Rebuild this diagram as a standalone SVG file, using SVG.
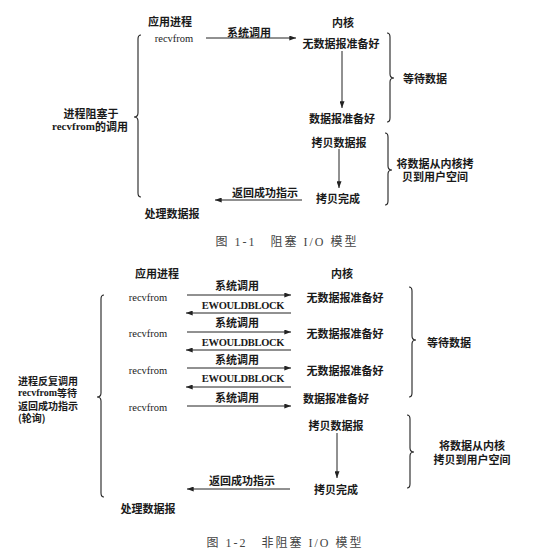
<svg xmlns="http://www.w3.org/2000/svg" width="544" height="556" viewBox="0 0 544 556">
<style>
.t{font-family:"Noto Sans CJK SC","Liberation Sans",sans-serif;font-size:11px;font-weight:bold;fill:#1a1a1a;dominant-baseline:central}
.s{font-size:10px}
.rs{font-family:"Liberation Serif",serif;font-weight:bold}
.r{font-family:"Liberation Serif","Noto Sans CJK SC",serif;font-size:10.5px;fill:#1a1a1a;dominant-baseline:central}
.e{font-family:"Liberation Serif",serif;font-size:10.5px;font-weight:bold;fill:#1a1a1a;dominant-baseline:central;letter-spacing:-0.3px}
.c{font-family:"Liberation Serif","Noto Sans CJK SC",serif;font-size:12px;fill:#444;dominant-baseline:central;letter-spacing:2px}
.m{text-anchor:middle}
.ln{stroke:#222;stroke-width:1;fill:none}
.br{stroke:#222;stroke-width:1.1;fill:none}
</style>
<defs>
<marker id="ah" viewBox="0 0 8 6" refX="8" refY="3" markerWidth="7" markerHeight="5" orient="auto" markerUnits="userSpaceOnUse">
<path d="M0,0 L8,3 L0,6 Z" fill="#222"/>
</marker>
</defs>
<rect width="544" height="556" fill="#fff"/>

<!-- Figure 1-1 -->
<g id="fig1-app"><text class="t m" x="170" y="21">应用进程</text></g>
<g id="fig1-kernel"><text class="t m" x="343" y="22">内核</text></g>
<g id="fig1-recvfrom"><text class="r m" x="174" y="38">recvfrom</text></g>
<g id="fig1-nodata"><text class="t m" x="341" y="43">无数据报准备好</text></g>
<g id="fig1-ready"><text class="t m" x="342" y="118">数据报准备好</text></g>
<g id="fig1-copy"><text class="t m" x="339" y="142">拷贝数据报</text></g>
<g id="fig1-done"><text class="t m" x="338" y="198">拷贝完成</text></g>
<g id="fig1-process"><text class="t m" x="172" y="213">处理数据报</text></g>
<g id="fig1-blocked"><text class="t m" x="91" y="113"><tspan x="91" y="113">进程阻塞于</tspan><tspan x="90" y="126"><tspan class="rs">recvfrom</tspan>的调用</tspan></text></g>
<g id="fig1-wait"><text class="t" x="403" y="78">等待数据</text></g>
<g id="fig1-copylabel"><text class="t m" x="435" y="163"><tspan x="435" y="163">将数据从内核拷</tspan><tspan x="435" y="176">贝到用户空间</tspan></text></g>
<g id="fig1-caption"><text class="c m" x="287" y="242">图 1-1　阻塞 I/O 模型</text></g>

<g id="fig1-connectors">
<line class="ln" x1="206" y1="38" x2="296" y2="38" marker-end="url(#ah)"/>
<text class="t m" x="249" y="32">系统调用</text>
<line class="ln" x1="342" y1="51" x2="342" y2="108" marker-end="url(#ah)"/>
<line class="ln" x1="339" y1="149" x2="339" y2="188" marker-end="url(#ah)"/>
<line class="ln" x1="302" y1="200" x2="215" y2="200" marker-end="url(#ah)"/>
<text class="t m" x="265" y="192">返回成功指示</text>
<path class="br" d="M141,35 Q138,35 138,39 L138,113 Q138,117 134,117 Q138,117 138,121 L138,193 Q138,197 141,197"/>
<path class="br" d="M387,33 Q390,33 390,37 L390,74 Q390,78 394,78 Q390,78 390,82 L390,118 Q390,122 387,122"/>
<path class="br" d="M385,133 Q388,133 388,137 L388,166 Q388,170 392,170 Q388,170 388,174 L388,201 Q388,205 385,205"/>
</g>

<!-- Figure 1-2 -->
<g id="fig2-app"><text class="t m" x="157" y="273">应用进程</text></g>
<g id="fig2-kernel"><text class="t m" x="342" y="273">内核</text></g>
<g id="fig2-recv1"><text class="r m" x="148" y="297">recvfrom</text></g>
<g id="fig2-recv2"><text class="r m" x="148" y="333">recvfrom</text></g>
<g id="fig2-recv3"><text class="r m" x="148" y="370">recvfrom</text></g>
<g id="fig2-recv4"><text class="r m" x="148" y="407">recvfrom</text></g>
<g id="fig2-nodata1"><text class="t m" x="345" y="297">无数据报准备好</text></g>
<g id="fig2-nodata2"><text class="t m" x="345" y="333">无数据报准备好</text></g>
<g id="fig2-nodata3"><text class="t m" x="345" y="370">无数据报准备好</text></g>
<g id="fig2-ready"><text class="t m" x="336" y="398">数据报准备好</text></g>
<g id="fig2-copy"><text class="t m" x="336" y="425">拷贝数据报</text></g>
<g id="fig2-done"><text class="t m" x="336" y="489">拷贝完成</text></g>
<g id="fig2-process"><text class="t m" x="148" y="508">处理数据报</text></g>
<g id="fig2-poll"><text class="t s" x="18" y="379.5"><tspan x="18" y="379.5">进程反复调用</tspan><tspan x="18" y="392"><tspan class="rs">recvfrom</tspan>等待</tspan><tspan x="18" y="404.5">返回成功指示</tspan><tspan x="18" y="417">(轮询)</tspan></text></g>
<g id="fig2-wait"><text class="t" x="427" y="342">等待数据</text></g>
<g id="fig2-copylabel"><text class="t m" x="472" y="445"><tspan x="472" y="445">将数据从内核</tspan><tspan x="472" y="459">拷贝到用户空间</tspan></text></g>
<g id="fig2-caption"><text class="c m" x="285" y="543">图 1-2　非阻塞 I/O 模型</text></g>

<g id="fig2-connectors">
<line class="ln" x1="187" y1="295" x2="291" y2="295" marker-end="url(#ah)"/>
<text class="t m" x="237" y="285">系统调用</text>
<line class="ln" x1="291" y1="313" x2="186" y2="313" marker-end="url(#ah)"/>
<text class="e m" x="243" y="305">EWOULDBLOCK</text>
<line class="ln" x1="187" y1="332" x2="291" y2="332" marker-end="url(#ah)"/>
<text class="t m" x="237" y="322">系统调用</text>
<line class="ln" x1="291" y1="350" x2="186" y2="350" marker-end="url(#ah)"/>
<text class="e m" x="243" y="342">EWOULDBLOCK</text>
<line class="ln" x1="187" y1="368" x2="291" y2="368" marker-end="url(#ah)"/>
<text class="t m" x="237" y="359">系统调用</text>
<line class="ln" x1="291" y1="387" x2="186" y2="387" marker-end="url(#ah)"/>
<text class="e m" x="243" y="378">EWOULDBLOCK</text>
<line class="ln" x1="187" y1="406" x2="291" y2="406" marker-end="url(#ah)"/>
<text class="t m" x="237" y="397">系统调用</text>
<line class="ln" x1="337" y1="433" x2="337" y2="478" marker-end="url(#ah)"/>
<line class="ln" x1="290" y1="489" x2="187" y2="489" marker-end="url(#ah)"/>
<text class="t m" x="242" y="480">返回成功指示</text>
<path class="br" d="M104,295 Q101,295 101,299 L101,393 Q101,397 97,397 Q101,397 101,401 L101,493 Q101,497 104,497"/>
<path class="br" d="M409,287 Q412,287 412,291 L412,336 Q412,340 416,340 Q412,340 412,344 L412,393 Q412,397 409,397"/>
<path class="br" d="M407,415 Q410,415 410,419 L410,448 Q410,452 414,452 Q410,452 410,456 L410,484 Q410,488 407,488"/>
</g>
</svg>
